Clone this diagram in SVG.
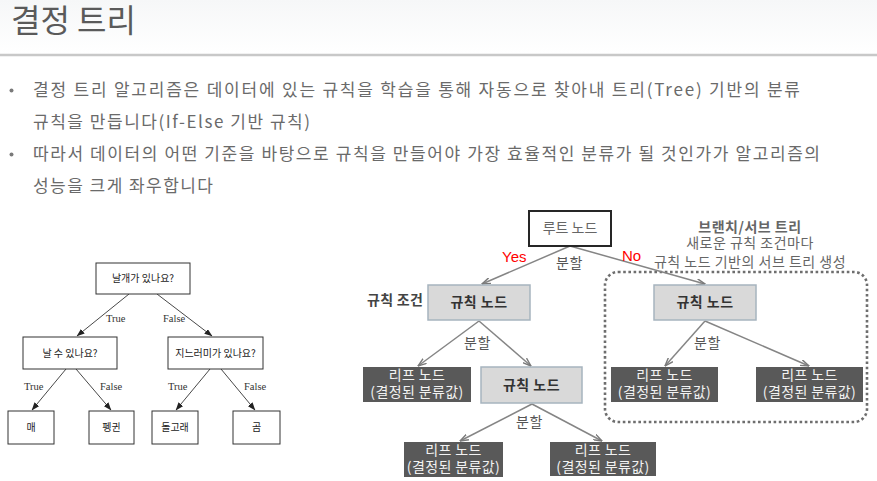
<svg xmlns="http://www.w3.org/2000/svg" width="877" height="481" viewBox="0 0 877 481">
<defs>
<linearGradient id="topbg" x1="0" y1="0" x2="0" y2="1">
<stop offset="0" stop-color="#f6f7f8"/>
<stop offset="1" stop-color="#ffffff"/>
</linearGradient>
<marker id="ah-black" viewBox="0 0 8 6" refX="7.5" refY="3" markerWidth="8" markerHeight="6" markerUnits="userSpaceOnUse" orient="auto">
<path d="M0,0 L8,3 L0,6 Z" fill="#222"/>
</marker>
<marker id="ah-gray" viewBox="0 0 9 7" refX="8.5" refY="3.5" markerWidth="9" markerHeight="7" markerUnits="userSpaceOnUse" orient="auto">
<path d="M0,0.5 L8.5,3.5 L0,6.5" fill="none" stroke="#7a7a7a" stroke-width="1.4"/>
</marker>
</defs>
<style>
.kr { font-family: "Noto Sans CJK KR", "Noto Sans", sans-serif; }
.title { font-size: 32px; fill: #5a5a5a; }
.body { font-size: 17px; fill: #6a6a6a; }
.lbox { fill: #ffffff; stroke: #333; stroke-width: 1; }
.ltxt { font-size: 10px; fill: #222; text-anchor: middle; }
.tf { font-family: "Liberation Serif", serif; font-size: 10.5px; fill: #333; }
.lline { stroke: #333; stroke-width: 0.9; fill: none; marker-end: url(#ah-black); }
.rline { stroke: #858585; stroke-width: 1.5; fill: none; marker-end: url(#ah-gray); }
.rule { fill: #d9d9d9; stroke: #a6b4be; stroke-width: 1.5; }
.ruletxt { font-size: 14px; font-weight: bold; fill: #333; text-anchor: middle; letter-spacing: 0.5px; }
.leaf { fill: #595959; }
.leaftxt { font-size: 14px; fill: #f2f2f2; text-anchor: middle; letter-spacing: 0.4px; }
.split { font-size: 14px; fill: #555; letter-spacing: 0.5px; }
.note { font-size: 14px; fill: #666; text-anchor: middle; letter-spacing: 0.5px; }
.yn { font-family: "Liberation Sans", Arial, sans-serif; font-size: 15px; fill: #ff0000; }
</style>
<rect x="0" y="0" width="877" height="481" fill="#ffffff"/>
<rect x="0" y="0" width="877" height="54" fill="url(#topbg)"/>
<text class="kr title" x="11" y="32">결정 트리</text>
<line x1="0" y1="55" x2="877" y2="55" stroke="#c8c8c8" stroke-width="2.5"/>

<g id="bullets">
<circle cx="11.5" cy="90.5" r="2" fill="#7a7a7a"/>
<text class="kr body" x="33" y="96" textLength="767" lengthAdjust="spacing">결정 트리 알고리즘은 데이터에 있는 규칙을 학습을 통해 자동으로 찾아내 트리(Tree) 기반의 분류</text>
<text class="kr body" x="33" y="128" textLength="277" lengthAdjust="spacing">규칙을 만듭니다(If-Else 기반 규칙)</text>
<circle cx="11.5" cy="154.5" r="2" fill="#7a7a7a"/>
<text class="kr body" x="33" y="160" textLength="787" lengthAdjust="spacing">따라서 데이터의 어떤 기준을 바탕으로 규칙을 만들어야 가장 효율적인 분류가 될 것인가가 알고리즘의</text>
<text class="kr body" x="33" y="192" textLength="180" lengthAdjust="spacing">성능을 크게 좌우합니다</text>
</g>

<!-- Left example tree -->
<g id="left-connectors">
<line class="lline" x1="129" y1="294" x2="77" y2="336"/>
<line class="lline" x1="157" y1="294" x2="212" y2="336"/>
<line class="lline" x1="66" y1="369" x2="32" y2="410"/>
<line class="lline" x1="76" y1="369" x2="111" y2="410"/>
<line class="lline" x1="210" y1="369" x2="176" y2="410"/>
<line class="lline" x1="221" y1="369" x2="255" y2="410"/>
<text class="tf" x="106" y="322">True</text>
<text class="tf" x="163" y="322">False</text>
<text class="tf" x="24" y="390">True</text>
<text class="tf" x="100" y="390">False</text>
<text class="tf" x="168" y="390">True</text>
<text class="tf" x="244" y="390">False</text>
</g>
<g id="l-root"><rect class="lbox" x="96" y="263" width="94" height="31"/><text class="kr ltxt" x="143" y="282">날개가 있나요?</text></g>
<g id="l-fly"><rect class="lbox" x="23" y="337" width="94" height="32"/><text class="kr ltxt" x="70" y="357">날 수 있나요?</text></g>
<g id="l-fin"><rect class="lbox" x="168" y="337" width="95" height="32"/><text class="kr ltxt" x="215.5" y="357">지느러미가 있나요?</text></g>
<g id="l-hawk"><rect class="lbox" x="8" y="411" width="46" height="33"/><text class="kr ltxt" x="31" y="431">매</text></g>
<g id="l-penguin"><rect class="lbox" x="89" y="411" width="45" height="33"/><text class="kr ltxt" x="111.5" y="431">펭귄</text></g>
<g id="l-dolphin"><rect class="lbox" x="152" y="411" width="46" height="33"/><text class="kr ltxt" x="175" y="431">돌고래</text></g>
<g id="l-bear"><rect class="lbox" x="233" y="411" width="47" height="33"/><text class="kr ltxt" x="256.5" y="431">곰</text></g>

<!-- Right structure diagram -->
<g id="subtree-frame">
<rect x="605" y="272" width="262" height="150" rx="13" ry="13" fill="none" stroke="#6e6e6e" stroke-width="2.6" stroke-dasharray="2.6 2.6"/>
</g>
<g id="right-connectors">
<line class="rline" x1="570" y1="246" x2="482" y2="284"/>
<line class="rline" x1="570" y1="246" x2="705" y2="284"/>
<line class="rline" x1="479" y1="321" x2="418" y2="366"/>
<line class="rline" x1="479" y1="321" x2="531" y2="366"/>
<line class="rline" x1="532" y1="404" x2="460" y2="441"/>
<line class="rline" x1="532" y1="404" x2="602" y2="441"/>
<line class="rline" x1="705" y1="321" x2="665" y2="366"/>
<line class="rline" x1="705" y1="321" x2="809" y2="366"/>
<text class="yn" x="502" y="262">Yes</text>
<text class="yn" x="622" y="261">No</text>
<text class="kr split" x="556" y="268">분할</text>
<text class="kr split" x="464" y="348">분할</text>
<text class="kr split" x="516" y="427">분할</text>
<text class="kr split" x="694" y="348">분할</text>
</g>
<g id="r-root"><rect x="529" y="211" width="82" height="35" fill="#ffffff" stroke="#262626" stroke-width="2"/><text class="kr" x="570" y="233" font-size="14" fill="#666" text-anchor="middle">루트 노드</text></g>
<g id="r-rule-label"><text class="kr" x="367" y="305" font-size="14" font-weight="bold" fill="#444" letter-spacing="0.3">규칙 조건</text></g>
<g id="r-rule1"><rect class="rule" x="428" y="285" width="102" height="35"/><text class="kr ruletxt" x="479" y="307">규칙 노드</text></g>
<g id="r-rule2"><rect class="rule" x="654" y="285" width="102" height="35"/><text class="kr ruletxt" x="705" y="307">규칙 노드</text></g>
<g id="r-rule3"><rect class="rule" x="481" y="367" width="101" height="36"/><text class="kr ruletxt" x="531.5" y="390">규칙 노드</text></g>
<g id="r-leaf1"><rect class="leaf" x="363" y="367" width="108" height="35"/><text class="kr leaftxt" x="417" y="380">리프 노드</text><text class="kr leaftxt" x="417" y="397">(결정된 분류값)</text></g>
<g id="r-leaf2"><rect class="leaf" x="611" y="367" width="107" height="35"/><text class="kr leaftxt" x="664.5" y="380">리프 노드</text><text class="kr leaftxt" x="664.5" y="397">(결정된 분류값)</text></g>
<g id="r-leaf3"><rect class="leaf" x="756" y="367" width="107" height="35"/><text class="kr leaftxt" x="809.5" y="380">리프 노드</text><text class="kr leaftxt" x="809.5" y="397">(결정된 분류값)</text></g>
<g id="r-leaf4"><rect class="leaf" x="404" y="442" width="99" height="35"/><text class="kr leaftxt" x="453.5" y="455">리프 노드</text><text class="kr leaftxt" x="453.5" y="472">(결정된 분류값)</text></g>
<g id="r-leaf5"><rect class="leaf" x="550" y="442" width="106" height="34"/><text class="kr leaftxt" x="603" y="455">리프 노드</text><text class="kr leaftxt" x="603" y="472">(결정된 분류값)</text></g>
<g id="r-note">
<text class="kr note" x="750" y="232" font-weight="bold" fill="#444">브랜치/서브 트리</text>
<text class="kr note" x="750" y="248">새로운 규칙 조건마다</text>
<text class="kr note" x="750" y="267">규칙 노드 기반의 서브 트리 생성</text>
</g>
</svg>
